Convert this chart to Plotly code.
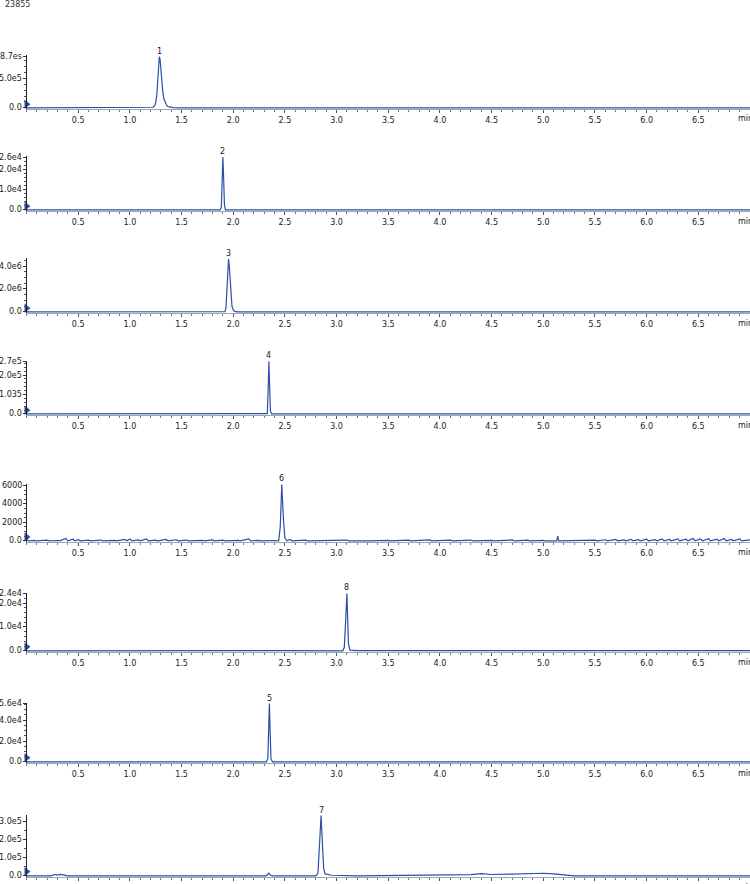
import plotly.graph_objects as go

# ---------------- data ----------------
header_text = "23855"

peak_labels = ["1", "2", "3", "4", "6", "8", "5", "7"]
peak_times = [1.285, 1.90, 1.955, 2.345, 2.47, 3.10, 2.35, 2.85]
peak_heights = [860000, 26000, 4600000, 270000, 6100, 24000, 56000, 330000]

ytick_vals = [
    [0, 500000, 870000],
    [0, 10000, 20000, 26000],
    [0, 2000000, 4000000],
    [0, 100000, 200000, 270000],
    [0, 2000, 4000, 6000],
    [0, 10000, 20000, 24000],
    [0, 20000, 40000, 56000],
    [0, 100000, 200000, 300000],
]
ytick_text = [
    ["0.0", "5.0e5", "8.7es"],
    ["0.0", "1.0e4", "2.0e4", "2.6e4"],
    ["0.0", "2.0e6", "4.0e6"],
    ["0.0", "1.035", "2.0e5", "2.7e5"],
    ["0.0", "2000", "4000", "6000"],
    ["0.0", "1.0e4", "2.0e4", "2.4e4"],
    ["0.0", "2.0e4", "4.0e4", "5.6e4"],
    ["0.0", "1.0e5", "2.0e5", "3.0e5"],
]
y_tops = [890000, 26500, 4700000, 272000, 6150, 24200, 56500, 333000]

xtick_vals = [0.5, 1.0, 1.5, 2.0, 2.5, 3.0, 3.5, 4.0, 4.5, 5.0, 5.5, 6.0, 6.5]
xtick_text = ["0.5", "1.0", "1.5", "2.0", "2.5", "3.0", "3.5", "4.0", "4.5", "5.0", "5.5", "6.0", "6.5"]

t1 = [0, 0.5, 1.0, 1.20, 1.225, 1.24, 1.25, 1.26, 1.27, 1.278, 1.285, 1.292, 1.30, 1.31, 1.32, 1.33, 1.34,
      1.355, 1.37, 1.39, 1.42, 1.47, 2.0, 3.0, 4.0, 5.0, 6.0, 7.0]
y1 = [0, 1500, 1000, 2000, 12000, 40000, 90000, 200000, 430000, 700000, 860000, 820000, 640000, 420000,
      250000, 150000, 90000, 45000, 22000, 10000, 4000, 1500, 1000, 800, 500, 600, 500, 400]

t2 = [0, 1.0, 1.875, 1.885, 1.893, 1.90, 1.907, 1.915, 1.925, 2.0, 3.0, 7.0]
y2 = [0, 0, 0, 1500, 14000, 26000, 16000, 2500, 0, 0, 0, 0]

t3 = [0, 0.40, 0.42, 0.44, 1.0, 1.92, 1.93, 1.94, 1.948, 1.955, 1.962, 1.97, 1.978, 1.988, 2.0, 2.015, 2.04, 3.0, 7.0]
y3 = [0, 0, 40000, 0, 0, 20000, 400000, 2000000, 3800000, 4600000, 4000000, 2600000, 1300000, 500000,
      180000, 50000, 0, 0, 0]

t4 = [0, 1.0, 2.32, 2.33, 2.338, 2.345, 2.352, 2.36, 2.372, 3.0, 7.0]
y4 = [0, 0, 0, 2000, 120000, 270000, 150000, 15000, 0, 0, 0]

t5 = [0.00, 0.02, 0.08, 0.10, 0.20, 0.22, 0.30, 0.32, 0.38, 0.40, 0.45, 0.47, 0.50, 0.52, 0.60, 0.62,
      0.72, 0.74, 0.85, 0.87, 0.95, 0.97, 1.00, 1.02, 1.08, 1.10, 1.16, 1.18, 1.25, 1.27, 1.35, 1.37,
      1.45, 1.47, 1.55, 1.57, 1.70, 1.72, 1.80, 1.82, 1.90, 1.92, 2.05, 2.07, 2.15, 2.17, 2.25, 2.27,
      2.40, 2.44, 2.455, 2.47, 2.485, 2.50, 2.52, 2.55, 2.57, 2.70, 2.72, 2.90, 2.92, 3.10, 3.12, 3.30,
      3.32, 3.50, 3.52, 3.70, 3.72, 3.90, 3.92, 4.10, 4.12, 4.30, 4.32, 4.50, 4.52, 4.70, 4.72, 4.85,
      4.87, 5.00, 5.02, 5.13, 5.14, 5.15, 5.30, 5.32, 5.50, 5.52, 5.60, 5.62, 5.70, 5.72, 5.78, 5.80,
      5.85, 5.87, 5.92, 5.94, 6.00, 6.02, 6.08, 6.10, 6.15, 6.17, 6.22, 6.24, 6.30, 6.32, 6.38, 6.40,
      6.45, 6.47, 6.52, 6.54, 6.60, 6.62, 6.68, 6.70, 6.75, 6.77, 6.82, 6.84, 6.90, 6.92, 7.00]
y5 = [250, 0, 60, 0, 80, 0, 40, 0, 250, 0, 180, 0, 120, 0, 70, 0,
      90, 0, 60, 0, 150, 0, 200, 0, 100, 0, 220, 0, 80, 0, 150, 0,
      120, 0, 90, 0, 60, 0, 110, 0, 70, 0, 50, 0, 200, 0, 60, 0,
      40, 0, 1500, 6100, 2500, 300, 0, 150, 0, 80, 0, 60, 0, 90, 0, 70,
      0, 60, 0, 80, 0, 100, 0, 70, 0, 90, 0, 60, 0, 100, 0, 80,
      0, 60, 0, 0, 500, 0, 60, 0, 80, 0, 120, 0, 150, 0, 100, 0,
      160, 0, 120, 0, 180, 0, 140, 0, 200, 0, 150, 0, 220, 0, 180, 0,
      250, 0, 200, 0, 230, 0, 180, 0, 250, 0, 150, 0, 200, 0, 100]

t6 = [0, 0.5, 1.0, 1.5, 2.0, 2.5, 3.06, 3.075, 3.087, 3.095, 3.10, 3.107, 3.115, 3.13, 3.2, 4.0, 5.0, 6.0, 7.0]
y6 = [0, 60, 40, 80, 50, 60, 0, 1500, 12000, 22000, 24000, 14000, 3000, 300, 100, 60, 80, 60, 100]

t7 = [0, 1.0, 2.32, 2.335, 2.343, 2.35, 2.357, 2.365, 2.38, 3.0, 7.0]
y7 = [0, 0, 0, 3000, 30000, 56000, 30000, 3000, 0, 0, 0]

t8 = [0, 0.24, 0.27, 0.30, 0.33, 0.36, 0.40, 1.0, 2.0, 2.32, 2.345, 2.36, 2.38, 2.80, 2.82, 2.835, 2.85,
      2.862, 2.875, 2.89, 2.95, 3.2, 4.0, 4.3, 4.4, 4.5, 4.7, 4.9, 5.0, 5.1, 5.2, 5.3, 6.0, 7.0]
y8 = [0, 0, 7000, 4000, 8000, 5000, 0, 0, 0, 0, 14000, 3000, 0, 0, 15000, 180000, 330000,
      190000, 40000, 10000, 3000, 0, 2000, 6000, 12000, 7000, 9000, 12000, 14000, 11000, 4000, 0, 0, 0]

times = [t1, t2, t3, t4, t5, t6, t7, t8]
values = [y1, y2, y3, y4, y5, y6, y7, y8]

# ---------------- layout geometry (pixels) ----------------
W, H = 750, 884
panel_px = [(55, 109), (156, 211), (258, 313), (361, 415), (484, 542), (593, 652), (703, 763), (815, 877)]
x_left = 26.5 / W
blue = "#2c4ea8"
font_family = "DejaVu Sans, Verdana, sans-serif"
FS = 8
txt_col = "#1a1a1a"

fig = go.Figure()
layout = dict(
    template="none",
    width=W, height=H,
    margin=dict(l=0, r=0, t=0, b=0, pad=0),
    paper_bgcolor="white", plot_bgcolor="white",
    showlegend=False,
    font=dict(family=font_family, size=FS, color=txt_col),
)
annotations = [dict(text=header_text, xref="paper", yref="paper", x=3 / W, y=1 - 5 / H,
                    xanchor="left", yanchor="middle", showarrow=False,
                    font=dict(size=FS, color="#333"))]

for i in range(8):
    n = i + 1
    xa = "x" if n == 1 else f"x{n}"
    ya = "y" if n == 1 else f"y{n}"
    top, bot = panel_px[i]
    ytop = y_tops[i]
    fig.add_trace(go.Scatter(x=times[i], y=values[i], mode="lines", xaxis=xa, yaxis=ya,
                             line=dict(color=blue, width=1.2),
                             hoverinfo="skip"))
    fig.add_trace(go.Scatter(x=[0.0], y=[ytop * 0.07], mode="markers", xaxis=xa, yaxis=ya,
                             marker=dict(symbol="triangle-right", size=8, color=blue,
                                         line=dict(width=0)),
                             cliponaxis=False, hoverinfo="skip"))
    layout["xaxis" if n == 1 else f"xaxis{n}"] = dict(
        domain=[x_left, 1], range=[0, 7.0], anchor=ya, automargin=False,
        tickvals=xtick_vals, ticktext=xtick_text,
        ticks="outside", ticklen=3, tickcolor="#555", tickwidth=1,
        minor=dict(dtick=0.1, tick0=0, ticks="outside", ticklen=2, tickcolor="#777", showgrid=False),
        showline=True, linecolor="#9aa", linewidth=1,
        showgrid=False, zeroline=False, fixedrange=True,
        tickfont=dict(size=FS, color=txt_col),
    )
    layout["yaxis" if n == 1 else f"yaxis{n}"] = dict(
        domain=[1 - bot / H, 1 - top / H], range=[-ytop * 0.02, ytop], anchor=xa, automargin=False,
        tickvals=ytick_vals[i], showticklabels=False,
        ticks="outside", ticklen=3, tickcolor="#333", tickwidth=1,
        minor=dict(nticks=3, ticks="outside", ticklen=2, tickcolor="#555", showgrid=False),
        showline=True, linecolor="#222", linewidth=1,
        showgrid=False, zeroline=False, fixedrange=True,
    )
    for v, txt in zip(ytick_vals[i], ytick_text[i]):
        annotations.append(dict(text=txt, xref="paper", yref=ya, x=23.5 / W, y=v,
                                xanchor="right", yanchor="middle", showarrow=False,
                                font=dict(size=FS, color=txt_col)))
    annotations.append(dict(text=peak_labels[i], xref=xa, yref=ya, x=peak_times[i], y=peak_heights[i],
                            xanchor="center", yanchor="bottom", yshift=-1, showarrow=False,
                            font=dict(size=FS, color=txt_col)))
    annotations.append(dict(text="min", xref=xa, yref="paper", x=6.955, y=1 - (bot + 10) / H,
                            xanchor="center", yanchor="middle", showarrow=False,
                            font=dict(size=FS, color=txt_col)))

layout["annotations"] = annotations
fig.update_layout(**layout)
fig.write_html("out.html")
